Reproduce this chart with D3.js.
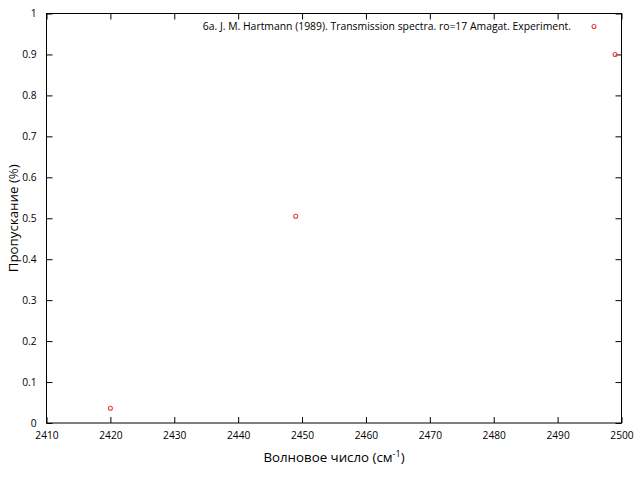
<!DOCTYPE html>
<html>
<head>
<meta charset="utf-8">
<script src="https://cdn.jsdelivr.net/npm/d3@7"></script>
<style>
html,body{margin:0;padding:0;background:#fff;}
svg{display:block;}
text{font-family:"Open Sans","Noto Sans",sans-serif;fill:#000;}
</style>
</head>
<body>
<svg id="chart" width="640" height="480"></svg>
<script>
const xValues = [2420, 2449, 2499];
const yValues = [0.036, 0.505, 0.900];
const xTicks = [2410, 2420, 2430, 2440, 2450, 2460, 2470, 2480, 2490, 2500];
const yTicks = [0, 0.1, 0.2, 0.3, 0.4, 0.5, 0.6, 0.7, 0.8, 0.9, 1];
const legendLabel = "6a. J. M. Hartmann (1989). Transmission spectra. ro=17 Amagat. Experiment.";
const xLabel = "Волновое число (см";
const yLabel = "Пропускание (%)";

const svg = d3.select("#chart");
const L = 46.5, R = 621.5, T = 13.5, B = 423;
const x = d3.scaleLinear().domain([2410, 2500]).range([L, R]);
const y = d3.scaleLinear().domain([0, 1]).range([B, T]);
const tick = 6;

const bx = svg.append("g").attr("transform", `translate(0,${B})`)
  .call(d3.axisBottom(x).tickValues(xTicks).tickFormat(d3.format("d")).tickSizeInner(-tick).tickSizeOuter(0).tickPadding(9));
const tx = svg.append("g").attr("transform", `translate(0,${T})`)
  .call(d3.axisTop(x).tickValues(xTicks).tickFormat("").tickSizeInner(-tick).tickSizeOuter(0));
const ly = svg.append("g").attr("transform", `translate(${L},0)`)
  .call(d3.axisLeft(y).tickValues(yTicks).tickFormat(d => d === 0 ? "0" : d === 1 ? "1" : d3.format(".1f")(d)).tickSizeInner(-tick).tickSizeOuter(0).tickPadding(10));
const ry = svg.append("g").attr("transform", `translate(${R},0)`)
  .call(d3.axisRight(y).tickValues(yTicks).tickFormat("").tickSizeInner(-tick).tickSizeOuter(0));

[bx, tx, ly, ry].forEach(g => {
  g.select(".domain").remove();
  g.selectAll("line").attr("stroke", "#000").attr("stroke-width", 1);
  g.selectAll("text").attr("font-size", "10.2px").attr("font-family", "'Open Sans','Noto Sans',sans-serif").attr("fill", "#000");
});

svg.append("rect").attr("x", L).attr("y", T).attr("width", R - L).attr("height", B - T)
  .attr("fill", "none").attr("stroke", "#000").attr("stroke-width", 1);

svg.append("g").selectAll("circle").data(xValues.map((v, i) => [v, yValues[i]])).join("circle")
  .attr("cx", d => x(d[0])).attr("cy", d => y(d[1])).attr("r", 2)
  .attr("fill", "none").attr("stroke", "#e8403a").attr("stroke-width", 1.1);

svg.append("text").attr("x", 571).attr("y", 30).attr("text-anchor", "end")
  .attr("font-size", "10.4px").text(legendLabel);
svg.append("circle").attr("cx", 594).attr("cy", 26.5).attr("r", 2)
  .attr("fill", "none").attr("stroke", "#e8403a").attr("stroke-width", 1.1);

const xl = svg.append("text").attr("x", 334).attr("y", 462).attr("text-anchor", "middle").attr("font-size", "13.3px");
xl.append("tspan").text(xLabel);
xl.append("tspan").attr("dy", -5).attr("font-size", "9px").text("-1");
xl.append("tspan").attr("dy", 5).text(")");

svg.append("text").attr("transform", `translate(18,${(T + B) / 2}) rotate(-90)`)
  .attr("text-anchor", "middle").attr("font-size", "13.3px").text(yLabel);
</script>
</body>
</html>
